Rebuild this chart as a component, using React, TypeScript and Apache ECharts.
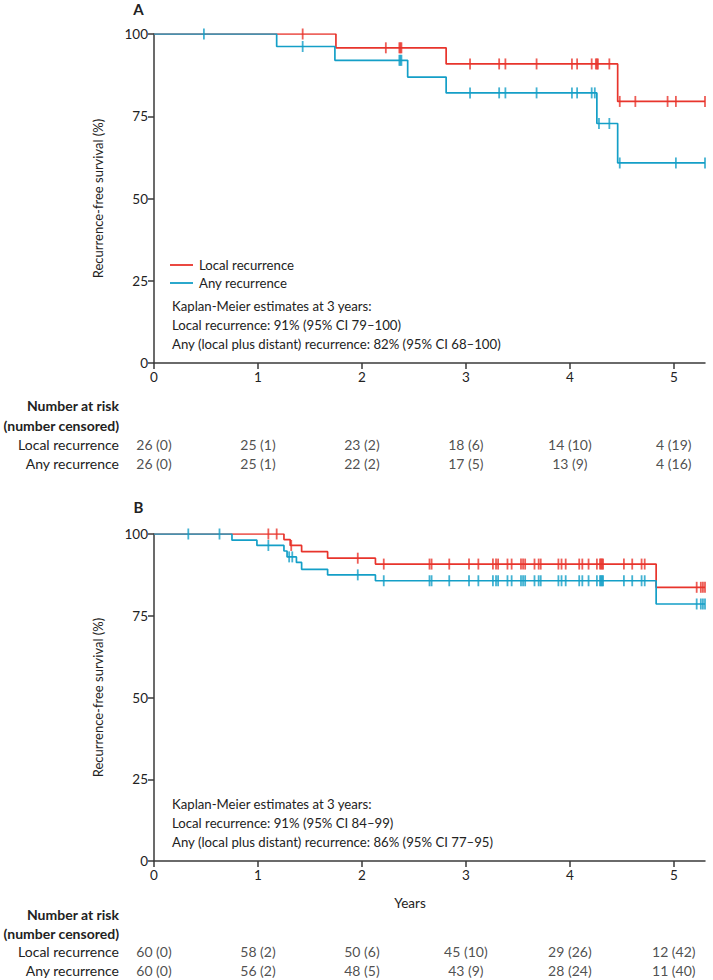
import React, { useEffect, useRef } from "react";
import * as echarts from "echarts";

// ---------- Data ----------
const xTicks = [0, 1, 2, 3, 4, 5];
const xMax = 5.3;

// Panel A: Kaplan-Meier events (time in years, survival %)
const aLocalEventTimes = [1.75, 2.81, 4.46];
const aLocalEventSurv = [95.8, 90.9, 79.5];
const aLocalCensor = [1.43, 2.23, 2.36, 2.37, 2.38, 3.04, 3.32, 3.38, 3.68, 4.02, 4.07, 4.21, 4.25, 4.26, 4.27, 4.38, 4.48, 4.63, 4.94, 5.02, 5.3];

const aAnyEventTimes = [1.18, 1.74, 2.44, 2.81, 4.26, 4.46];
const aAnyEventSurv = [96.2, 92.0, 86.9, 82.1, 72.8, 60.8];
const aAnyCensor = [0.48, 1.43, 2.36, 2.37, 2.38, 3.04, 3.32, 3.38, 3.68, 4.02, 4.07, 4.21, 4.24, 4.28, 4.38, 4.48, 5.02, 5.3];

// Panel B
const bLocalEventTimes = [1.25, 1.31, 1.42, 1.67, 2.13, 4.83];
const bLocalEventSurv = [98.3, 96.5, 94.6, 92.6, 90.8, 83.7];
const bLocalCensor = [1.1, 1.18, 1.32, 1.96, 2.21, 2.65, 2.67, 2.84, 3.03, 3.12, 3.26, 3.29, 3.31, 3.4, 3.44, 3.53, 3.55, 3.57, 3.66, 3.7, 3.72, 3.89, 3.92, 3.96, 4.09, 4.12, 4.18, 4.26, 4.29, 4.3, 4.31, 4.32, 4.52, 4.6, 4.69, 4.72, 5.22, 5.26, 5.28, 5.3];

const bAnyEventTimes = [0.75, 0.99, 1.25, 1.28, 1.37, 1.42, 1.67, 2.13, 4.83];
const bAnyEventSurv = [98.1, 96.5, 94.8, 93.0, 91.3, 89.2, 87.5, 85.7, 78.6];
const bAnyCensor = [0.33, 0.63, 1.1, 1.3, 1.33, 1.96, 2.21, 2.65, 2.67, 2.84, 3.03, 3.12, 3.26, 3.29, 3.31, 3.4, 3.44, 3.53, 3.55, 3.57, 3.66, 3.7, 3.72, 3.89, 3.92, 3.96, 4.09, 4.12, 4.18, 4.26, 4.29, 4.3, 4.31, 4.32, 4.52, 4.6, 4.69, 4.72, 5.22, 5.26, 5.28, 5.3];

// Numbers at risk (number censored)
const riskRows = ["Local recurrence", "Any recurrence"];
const aLocalAtRisk = [26, 25, 23, 18, 14, 4];
const aLocalCensored = [0, 1, 2, 6, 10, 19];
const aAnyAtRisk = [26, 25, 22, 17, 13, 4];
const aAnyCensored = [0, 1, 2, 5, 9, 16];
const bLocalAtRisk = [60, 58, 50, 45, 29, 12];
const bLocalCensored = [0, 2, 6, 10, 26, 42];
const bAnyAtRisk = [60, 56, 48, 43, 28, 11];
const bAnyCensored = [0, 2, 5, 9, 24, 40];

const legendNames = ["Local recurrence", "Any recurrence"];
const aEstimates = [
  "Kaplan-Meier estimates at 3 years:",
  "Local recurrence: 91% (95% CI 79\u2013100)",
  "Any (local plus distant) recurrence: 82% (95% CI 68\u2013100)",
];
const bEstimates = [
  "Kaplan-Meier estimates at 3 years:",
  "Local recurrence: 91% (95% CI 84\u201399)",
  "Any (local plus distant) recurrence: 86% (95% CI 77\u201395)",
];

// ---------- Styles ----------
const RED = "#e8342c";
const BLUE = "#149fc7";
const AXIS = "#3a3a3a";
const TEXT = "#222";
const FONT = "Lato, 'Open Sans', sans-serif";
const BODY = 13.2;
const TABLE = 14;

function stepPoints(times: number[], surv: number[], end: number) {
  const pts: number[][] = [[0, 100]];
  let s = 100;
  for (let i = 0; i < times.length; i++) {
    pts.push([times[i], s]);
    pts.push([times[i], surv[i]]);
    s = surv[i];
  }
  pts.push([end, s]);
  return pts;
}

function survAt(times: number[], surv: number[], t: number) {
  let s = 100;
  for (let i = 0; i < times.length; i++) if (times[i] <= t) s = surv[i];
  return s;
}

function censorPoints(times: number[], surv: number[], cens: number[]) {
  return cens.map((t) => [t, survAt(times, surv, t)]);
}

function riskData(atRisk: number[], cens: number[], row: string) {
  return xTicks.map((t, i) => ({ value: [t, row], label: `${atRisk[i]} (${cens[i]})` }));
}

export default function App() {
  const ref = useRef<HTMLDivElement>(null);
  useEffect(() => {
    if (!ref.current) return;
    const chart = echarts.init(ref.current, null, { renderer: "svg" });

    const plotXAxis = (gridIndex: number) => ({
      type: "value",
      gridIndex,
      min: 0,
      max: xMax,
      interval: 1,
      axisLine: { show: true, onZero: false, lineStyle: { color: AXIS, width: 1.5 } },
      axisTick: { show: true, length: 6, customValues: xTicks, lineStyle: { color: AXIS, width: 1.5 } },
      axisLabel: { show: true, customValues: xTicks, fontSize: 13.5, color: TEXT, fontFamily: FONT, margin: 7 },
      splitLine: { show: false },
    });
    const plotYAxis = (gridIndex: number) => ({
      type: "value",
      gridIndex,
      min: 0,
      max: 100,
      interval: 25,
      name: "Recurrence-free survival (%)",
      nameLocation: "middle",
      nameGap: 50,
      nameTextStyle: { fontSize: 13, color: TEXT, fontFamily: FONT },
      axisLine: { show: true, lineStyle: { color: AXIS, width: 1.5 } },
      axisTick: { show: true, length: 6, lineStyle: { color: AXIS, width: 1.5 } },
      axisLabel: { fontSize: 13.5, color: TEXT, fontFamily: FONT, margin: 6 },
      splitLine: { show: false },
    });
    const tableXAxis = (gridIndex: number) => ({
      type: "value",
      gridIndex,
      min: 0,
      max: xMax,
      show: false,
    });
    const tableYAxis = (gridIndex: number) => ({
      type: "category",
      gridIndex,
      data: riskRows,
      inverse: true,
      axisLine: { show: false },
      axisTick: { show: false },
      axisLabel: { fontSize: TABLE, color: TEXT, fontFamily: FONT, margin: 35 },
    });

    const lineSeries = (name: string, pts: number[][], color: string, idx: number) => ({
      type: "line",
      name,
      xAxisIndex: idx,
      yAxisIndex: idx,
      data: pts,
      symbol: "none",
      lineStyle: { color, width: 1.7 },
      itemStyle: { color },
      z: 2,
    });
    const censorSeries = (name: string, pts: number[][], color: string, idx: number) => ({
      type: "scatter",
      name,
      xAxisIndex: idx,
      yAxisIndex: idx,
      data: pts,
      symbol: "rect",
      symbolSize: [1.8, 11],
      itemStyle: { color },
      z: 3,
    });
    const tableSeries = (data: any[], idx: number) => ({
      type: "scatter",
      xAxisIndex: idx,
      yAxisIndex: idx,
      data,
      symbolSize: 1,
      itemStyle: { color: "transparent" },
      label: {
        show: true,
        position: "inside",
        formatter: (p: any) => p.data.label,
        fontSize: TABLE,
        color: TEXT,
        fontFamily: FONT,
      },
      silent: true,
    });

    const txt = (x: number, y: number, text: string, opts: any = {}) => ({
      type: "text",
      x,
      y,
      style: {
        text,
        fill: TEXT,
        fontSize: BODY,
        fontFamily: FONT,
        verticalAlign: "middle",
        align: "left",
        ...opts,
      },
    });
    const legendLine = (y: number, color: string) => ({
      type: "line",
      shape: { x1: 170, y1: y, x2: 193, y2: y },
      style: { stroke: color, lineWidth: 1.8 },
    });

    const option: any = {
      animation: false,
      backgroundColor: "#fff",
      grid: [
        { left: 154, top: 34, width: 551, height: 329 },
        { left: 154, top: 534, width: 551, height: 327 },
        { left: 154, top: 434.5, width: 551, height: 38 },
        { left: 154, top: 942.5, width: 551, height: 38 },
      ],
      xAxis: [plotXAxis(0), plotXAxis(1), tableXAxis(2), tableXAxis(3)],
      yAxis: [plotYAxis(0), plotYAxis(1), tableYAxis(2), tableYAxis(3)],
      series: [
        lineSeries("Local recurrence", stepPoints(aLocalEventTimes, aLocalEventSurv, xMax), RED, 0),
        censorSeries("Local censored A", censorPoints(aLocalEventTimes, aLocalEventSurv, aLocalCensor), RED, 0),
        lineSeries("Any recurrence", stepPoints(aAnyEventTimes, aAnyEventSurv, xMax), BLUE, 0),
        censorSeries("Any censored A", censorPoints(aAnyEventTimes, aAnyEventSurv, aAnyCensor), BLUE, 0),
        lineSeries("Local recurrence B", stepPoints(bLocalEventTimes, bLocalEventSurv, xMax), RED, 1),
        censorSeries("Local censored B", censorPoints(bLocalEventTimes, bLocalEventSurv, bLocalCensor), RED, 1),
        lineSeries("Any recurrence B", stepPoints(bAnyEventTimes, bAnyEventSurv, xMax), BLUE, 1),
        censorSeries("Any censored B", censorPoints(bAnyEventTimes, bAnyEventSurv, bAnyCensor), BLUE, 1),
        tableSeries(
          [...riskData(aLocalAtRisk, aLocalCensored, riskRows[0]), ...riskData(aAnyAtRisk, aAnyCensored, riskRows[1])],
          2
        ),
        tableSeries(
          [...riskData(bLocalAtRisk, bLocalCensored, riskRows[0]), ...riskData(bAnyAtRisk, bAnyCensored, riskRows[1])],
          3
        ),
      ],
      graphic: [
        txt(138.5, 9, "A", { fontSize: 15, fontWeight: "bold", align: "center" }),
        txt(138.5, 507, "B", { fontSize: 15, fontWeight: "bold", align: "center" }),
        legendLine(265, RED),
        legendLine(283, BLUE),
        txt(199, 265, legendNames[0]),
        txt(199, 283, legendNames[1]),
        txt(172, 305.7, aEstimates[0]),
        txt(172, 325, aEstimates[1]),
        txt(172, 343.5, aEstimates[2]),
        txt(172, 804, bEstimates[0]),
        txt(172, 823, bEstimates[1]),
        txt(172, 842, bEstimates[2]),
        txt(119, 405, "Number at risk", { align: "right", fontWeight: "bold", fontSize: TABLE }),
        txt(119, 425.5, "(number censored)", { align: "right", fontWeight: "bold", fontSize: TABLE }),
        txt(119, 914, "Number at risk", { align: "right", fontWeight: "bold", fontSize: TABLE }),
        txt(119, 933, "(number censored)", { align: "right", fontWeight: "bold", fontSize: TABLE }),
        txt(410, 903, "Years", { align: "center", fontSize: 13.5 }),
      ],
    };
    chart.setOption(option);
    return () => chart.dispose();
  }, []);
  return (
    <div
      ref={ref}
      style={{ position: "absolute", left: 0, top: 0, width: 713, height: 980, background: "#fff" }}
    />
  );
}
